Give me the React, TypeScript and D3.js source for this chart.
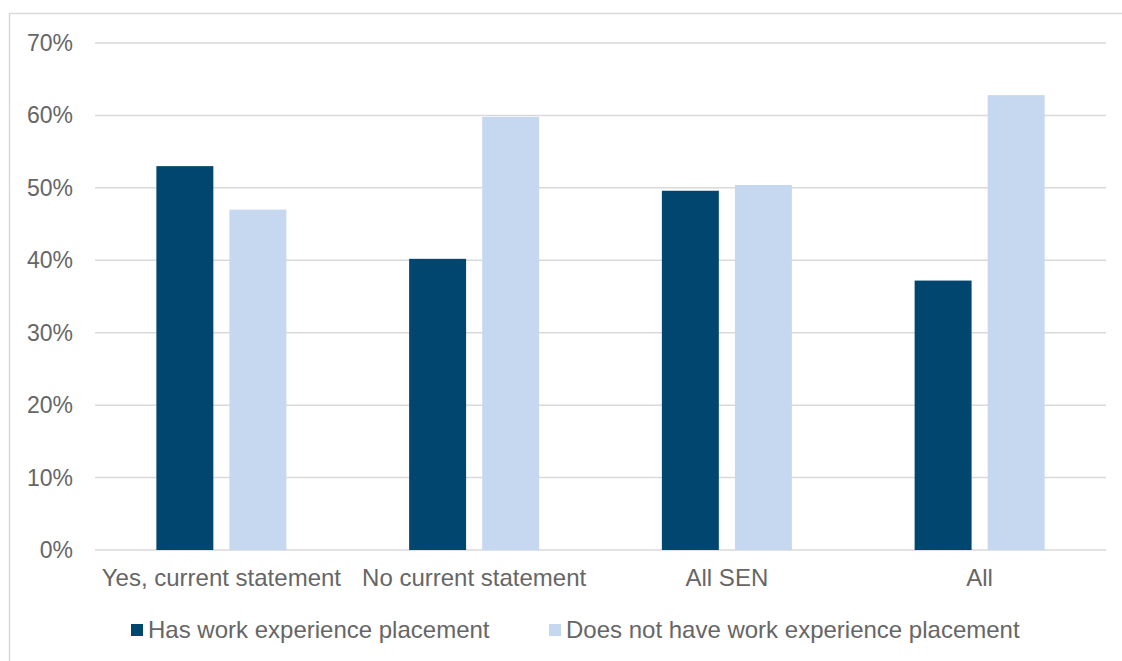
import React from "react";
import * as d3 from "d3";

const categories = ["Yes, current statement", "No current statement", "All SEN", "All"];
const seriesNames = ["Has work experience placement", "Does not have work experience placement"];
const hasPlacement = [0.53, 0.402, 0.496, 0.372];
const noPlacement = [0.47, 0.598, 0.504, 0.628];
const yTicks = [0, 0.1, 0.2, 0.3, 0.4, 0.5, 0.6, 0.7];
const colors = ["#00466E", "#C6D8EF"];

const W = 1122, H = 661;
const left = 95, right = 1106, top = 43, bottom = 550;
const FONT = "'Liberation Sans', Arial, sans-serif";
const TEXT = "#666666";

export default function App() {
  const x = d3.scaleBand().domain(categories).range([left, right]).paddingInner(0).paddingOuter(0);
  const y = d3.scaleLinear().domain([0, 0.7]).range([bottom, top]);
  const inner = d3.scaleBand().domain(["0", "1"]).range([0, 130]).paddingInner(0.22);
  const series = [hasPlacement, noPlacement];
  const fmt = d3.format(".0%");
  return (
    <svg width={W} height={H} style={{ position: "absolute", left: 0, top: 0 }} fontFamily={FONT}>
      <rect x={0} y={0} width={W} height={H} fill="#fff" />
      <path d={`M9.5,${H} V13.5 H${W}`} fill="none" stroke="#D9D9D9" strokeWidth={1.5} />
      {yTicks.map((t) => (
        <g key={t}>
          <line x1={left} x2={right} y1={y(t)} y2={y(t)} stroke="#D9D9D9" strokeWidth={1.5} />
          <text x={73} y={y(t)} dy="0.35em" textAnchor="end" fontSize={23} fill={TEXT}>{fmt(t)}</text>
        </g>
      ))}
      {categories.map((c, i) => {
        const cx = x(c)! + x.bandwidth() / 2;
        return (
          <g key={c}>
            {series.map((s, j) => (
              <rect key={j} x={cx - 65 + inner(String(j))!} y={y(s[i])} width={inner.bandwidth()} height={bottom - y(s[i])} fill={colors[j]} />
            ))}
            <text x={cx} y={578} dy="0.35em" textAnchor="middle" fontSize={24} fill={TEXT}>{c}</text>
          </g>
        );
      })}
      {seriesNames.map((n, j) => {
        const lx = j === 0 ? 131 : 549;
        return (
          <g key={n}>
            <rect x={lx} y={624} width={12} height={12} fill={colors[j]} />
            <text x={lx + 17} y={630} dy="0.35em" fontSize={24} fill={TEXT}>{n}</text>
          </g>
        );
      })}
    </svg>
  );
}
